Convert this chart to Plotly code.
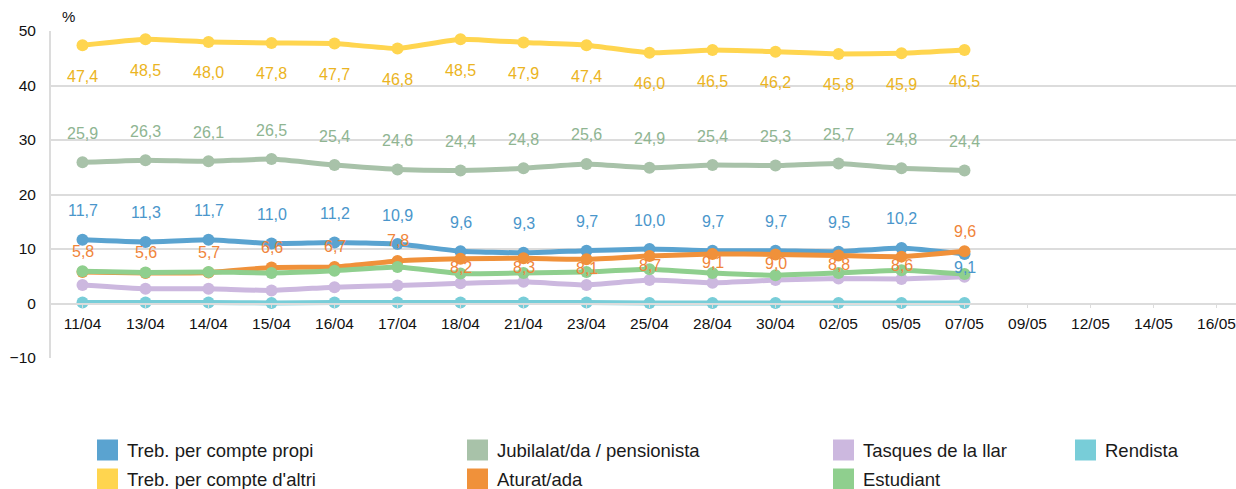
import plotly.graph_objects as go

dates = ["11/04", "13/04", "14/04", "15/04", "16/04", "17/04", "18/04", "21/04",
         "23/04", "25/04", "28/04", "30/04", "02/05", "05/05", "07/05",
         "09/05", "12/05", "14/05", "16/05"]
data_dates = dates[:15]

treb_propi = [11.7, 11.3, 11.7, 11.0, 11.2, 10.9, 9.6, 9.3, 9.7, 10.0, 9.7, 9.7, 9.5, 10.2, 9.1]
treb_altri = [47.4, 48.5, 48.0, 47.8, 47.7, 46.8, 48.5, 47.9, 47.4, 46.0, 46.5, 46.2, 45.8, 45.9, 46.5]
jubilat = [25.9, 26.3, 26.1, 26.5, 25.4, 24.6, 24.4, 24.8, 25.6, 24.9, 25.4, 25.3, 25.7, 24.8, 24.4]
aturat = [5.8, 5.6, 5.7, 6.6, 6.7, 7.8, 8.2, 8.3, 8.1, 8.7, 9.1, 9.0, 8.8, 8.6, 9.6]
tasques = [3.4, 2.7, 2.7, 2.4, 3.0, 3.3, 3.7, 4.0, 3.4, 4.3, 3.8, 4.3, 4.6, 4.5, 4.9]
estudiant = [5.9, 5.7, 5.8, 5.6, 6.0, 6.7, 5.5, 5.6, 5.8, 6.3, 5.6, 5.2, 5.6, 6.1, 5.4]
rendista = [0.2, 0.2, 0.2, 0.1, 0.2, 0.2, 0.2, 0.2, 0.2, 0.1, 0.1, 0.1, 0.1, 0.1, 0.1]

names = ["Treb. per compte propi", "Treb. per compte d'altri", "Jubilalat/da / pensionista",
         "Aturat/ada", "Tasques de la llar", "Estudiant", "Rendista"]

# label placement (style, not data): +1 above, -1 below
aturat_side = [1, 1, 1, 1, 1, 1, -1, -1, -1, -1, -1, -1, -1, -1, 1]
propi_side = [1] * 14 + [-1]

series = [
    (names[0], treb_propi, "#5AA3D0", "#4A96CB", propi_side, 29, -14),
    (names[1], treb_altri, "#FFD54F", "#EBB422", [-1] * 15, 30, -31),
    (names[2], jubilat, "#A8C2A9", "#8FB592", [1] * 15, 29, -29),
    (names[3], aturat, "#F0913A", "#F0853A", aturat_side, 20, -9),
    (names[4], tasques, "#CCB8DF", None, None, 0, 0),
    (names[5], estudiant, "#8FCF8E", None, None, 0, 0),
    (names[6], rendista, "#78CDD8", None, None, 0, 0),
]

FONT = "Liberation Sans, Arial, sans-serif"
fig = go.Figure()
annotations = []
for name, vals, col, lcol, side, up, down in series:
    fig.add_trace(go.Scatter(
        x=data_dates, y=vals, name=name, mode="lines+markers",
        line=dict(color=col, width=5, shape="spline", smoothing=0.4),
        marker=dict(color=col, size=12), showlegend=False,
        hoverinfo="x+y+name"))
    if lcol:
        for d, v, s in zip(data_dates, vals, side):
            annotations.append(dict(
                x=d, y=v, xref="x", yref="y", showarrow=False,
                text=f"{v:.1f}".replace(".", ","),
                font=dict(family=FONT, size=16, color=lcol),
                yshift=up if s > 0 else down))

W, H = 1236, 489
L, T, R = 51, 31, 0
B = H - 358
pw, ph = W - L - R, H - T - B


def px(x):
    return (x - L) / pw


def py(y):
    return (H - B - y) / ph


# manual legend (two rows, four columns)
legend_items = [
    (names[0], "#5AA3D0", 97, 450), (names[2], "#A8C2A9", 467, 450),
    (names[4], "#CCB8DF", 833, 450), (names[6], "#78CDD8", 1075, 450),
    (names[1], "#FFD54F", 97, 479), (names[3], "#F0913A", 467, 479),
    (names[5], "#8FCF8E", 833, 479),
]
shapes = []
for nm, col, x0, yc in legend_items:
    shapes.append(dict(type="rect", xref="paper", yref="paper",
                       x0=px(x0), x1=px(x0 + 21), y0=py(yc + 10.5), y1=py(yc - 10.5),
                       fillcolor=col, line=dict(width=0)))
    annotations.append(dict(xref="paper", yref="paper", x=px(x0 + 28), y=py(yc),
                            xanchor="left", yanchor="middle", showarrow=False,
                            text=nm, font=dict(family=FONT, size=18.5, color="#1a1a1a")))

annotations.append(dict(xref="paper", yref="paper", x=px(68), y=py(17),
                        xanchor="center", yanchor="middle", showarrow=False,
                        text="%", font=dict(family=FONT, size=15, color="#111")))

fig.update_layout(
    width=W, height=H, margin=dict(l=L, r=R, t=T, b=B, autoexpand=False),
    paper_bgcolor="white", plot_bgcolor="white",
    font=dict(family=FONT, size=15, color="#111"),
    showlegend=False, annotations=annotations, shapes=shapes,
    xaxis=dict(type="category", categoryorder="array", categoryarray=dates,
               range=[-0.5, -0.5 + pw / 63.0], anchor="free", position=1 / 6,
               showgrid=False, showline=True, linecolor="#dcdcdc", linewidth=2,
               ticks="outside", ticklen=3, tickcolor="#dcdcdc",
               tickfont=dict(family=FONT, size=15.5, color="#111"),
               ticklabelstandoff=3, fixedrange=True),
    yaxis=dict(range=[-10, 50], dtick=10, tick0=0, showgrid=True,
               gridcolor="#dcdcdc", gridwidth=2, zeroline=False,
               showline=True, linecolor="#dcdcdc", linewidth=2,
               ticks="", ticklabelstandoff=10,
               tickfont=dict(family=FONT, size=15.5, color="#111"), fixedrange=True),
)

fig.write_html(
    "out.html",
    config={"displayModeBar": False},
    post_script="document.body.style.margin='0px';document.body.style.overflow='hidden';",
)
